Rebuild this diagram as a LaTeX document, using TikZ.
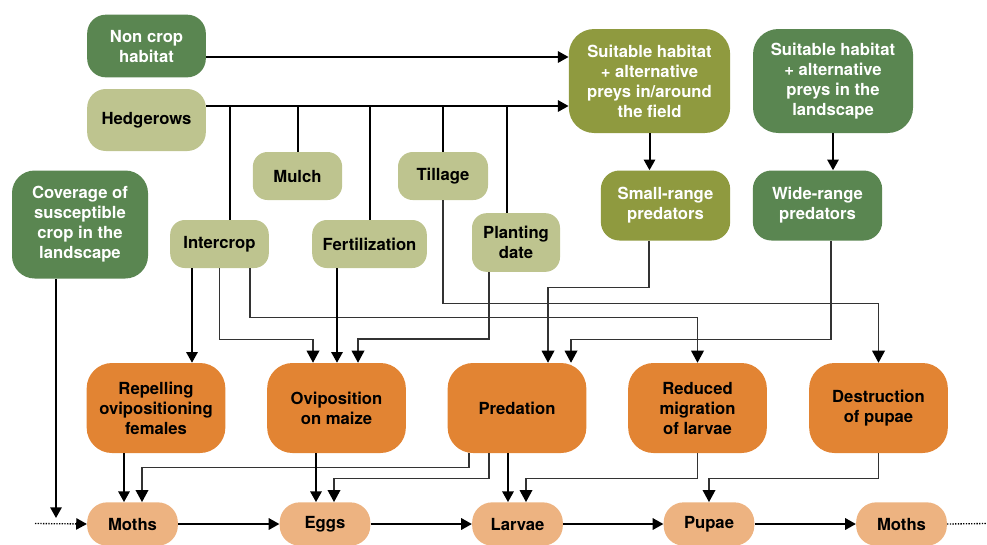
\documentclass[tikz,border=0pt]{standalone}
\usepackage{fontspec}
\setmainfont{TeX Gyre Heros}
\usepackage{xcolor}
\usepackage{tikz}
\usetikzlibrary{arrows.meta, positioning, calc}

\definecolor{darkleaf}{HTML}{5A8651}
\definecolor{paleleaf}{HTML}{BEC48F}
\definecolor{mossleaf}{HTML}{8F9A3F}
\definecolor{pestorange}{HTML}{E28433}
\definecolor{stageorange}{HTML}{EDB381}

\begin{document}
\begin{tikzpicture}[x=0.75pt, y=-0.75pt,
    font=\bfseries\fontsize{12.5}{15}\selectfont,
    box/.style={inner sep=0pt, align=center, rounded corners=14pt},
    wildbox/.style={box, fill=darkleaf, text=white},
    fieldbox/.style={box, fill=mossleaf, text=white},
    farmbox/.style={box, fill=paleleaf, rounded corners=11pt},
    effectbox/.style={box, fill=pestorange, rounded corners=19pt,
        minimum width=104pt, minimum height=67.5pt},
    stagebox/.style={box, fill=stageorange, rounded corners=15pt,
        minimum width=68pt, minimum height=32.5pt},
    arr/.style={-{Triangle[width=8.5pt,length=8pt]}, line width=1.5pt},
    elb/.style={-{Triangle[width=9.5pt,length=9pt,color=black]}, line width=1pt, black!80},
    ln/.style={line width=1.5pt},
    cycle/.style={line width=1pt, densely dotted}]
\useasboundingbox (0,0) rectangle (987,544);

% Landscape and field practices
\node[wildbox, minimum width=89pt, minimum height=47pt] (noncrop) at (146.5,46) {Non crop\\habitat};
\node[farmbox, minimum width=89pt, minimum height=46.5pt, rounded corners=14pt] (hedge) at (146.5,120) {Hedgerows};
\node[wildbox, minimum width=102pt, minimum height=81pt, rounded corners=17pt] (cover) at (80,224.5) {Coverage of\\susceptible\\crop in the\\landscape};
\node[farmbox, minimum width=67pt, minimum height=36pt] (mulch) at (297.5,176) {Mulch};
\node[farmbox, minimum width=67.5pt, minimum height=36pt] (tillage) at (443,176) {Tillage};
\node[farmbox, minimum width=74pt, minimum height=36pt] (intercrop) at (219.5,244) {Intercrop};
\node[farmbox, minimum width=86pt, minimum height=36pt] (fert) at (369.5,244) {Fertilization};
\node[farmbox, minimum width=66pt, minimum height=44pt] (plant) at (516,242.5) {Planting\\date};

% Habitats and predators
\node[fieldbox, minimum width=121pt, minimum height=78pt, rounded corners=19pt] (fieldhab) at (649.5,81) {Suitable habitat\\+ alternative\\preys in/around\\the field};
\node[wildbox, minimum width=120pt, minimum height=78pt, rounded corners=19pt] (landhab) at (833,81) {Suitable habitat\\+ alternative\\preys in the\\landscape};
\node[fieldbox, minimum width=97pt, minimum height=52.5pt] (smallpred) at (665.5,205.5) {Small-range\\predators};
\node[wildbox, minimum width=97pt, minimum height=52.5pt] (widepred) at (817.5,205.5) {Wide-range\\predators};

% Effects on the pest
\node[effectbox] (repel) at (156,408) {Repelling\\ovipositioning\\females};
\node[effectbox] (ovip) at (336.5,408) {Oviposition\\on maize};
\node[effectbox] (pred) at (517,408) {Predation};
\node[effectbox] (migr) at (697.5,408) {Reduced\\migration\\of larvae};
\node[effectbox] (destr) at (878.5,408) {Destruction\\of pupae};

% Pest life cycle
\node[stagebox] (moths) at (132.5,524) {Moths};
\node[stagebox] (eggs) at (325,524) {Eggs};
\node[stagebox] (larvae) at (517.5,524) {Larvae};
\node[stagebox] (pupae) at (709,524) {Pupae};
\node[stagebox] (moths2) at (901.5,524) {Moths};
\coordinate (cyclein) at (35,523.5);
\coordinate (cycleout) at (987,523.5);
\coordinate (covend) at (56,518);

% Habitat links
\draw[arr] ($(noncrop.east)+(0,11)$) coordinate (nc) -- (nc -| fieldhab.west);
\draw[arr] ($(hedge.east)+(0,-14)$) coordinate (hl) -- (hl -| fieldhab.west);
\foreach \n/\dx in {intercrop/10.5, mulch/0, fert/0, tillage/0, plant/-9}
    \draw[ln] ($(\n.north)+(\dx,0)$) coordinate (b) -- (b |- hl);
\draw[arr] (fieldhab.south) -- (fieldhab.south |- smallpred.north);
\draw[arr] (landhab.south) -- (landhab.south |- widepred.north);

% Practices to effects
\draw[arr] ($(cover.south)+(-24,0)$) coordinate (c) -- (c |- covend);
\draw[arr] ($(intercrop.south)+(-27.5,0)$) coordinate (c) -- (c |- repel.north);
\draw[elb] (intercrop.south) -- ++(0,71) -| ($(ovip.north)+(-23.5,0)$);
\draw[elb] ($(intercrop.south)+(30.5,0)$) -- ++(0,49) -| (migr.north);
\draw[arr] ($(fert.south)+(-32.5,0)$) coordinate (c) -- (c |- ovip.north);
\draw[elb] ($(plant.south)+(-27,0)$) -- ++(0,67) -| ($(ovip.north)+(21.5,0)$);
\draw[elb] (tillage.south) -- ++(0,103) -| (destr.north);
\draw[elb] ($(smallpred.south)+(-16.5,0)$) -- ++(0,47) -| ($(pred.north)+(31,0)$);
\draw[elb] ($(widepred.south)+(13.5,0)$) -- ++(0,99) -| ($(pred.north)+(54,0)$);

% Effects to life stages
\draw[arr] ($(repel.south)+(-32,0)$) coordinate (c) -- (c |- moths.north);
\draw[elb] ($(pred.south)+(-48,0)$) -- ++(0,14) -| ($(moths.north)+(9.5,0)$);
\draw[arr] ($(ovip.south)+(-20.5,0)$) coordinate (c) -- (c |- eggs.north);
\draw[elb] ($(pred.south)+(-28,0)$) -- ++(0,25) -| ($(eggs.north)+(9,0)$);
\draw[arr] ($(pred.south)+(-9,0)$) coordinate (c) -- (c |- larvae.north);
\draw[elb] (migr.south) -- ++(0,25) -| ($(larvae.north)+(8.5,0)$);
\draw[elb] (destr.south) -- ++(0,25) -| (pupae.north);

% Cycle
\draw[cycle, -{Triangle[width=8.5pt,length=8pt]}] (cyclein) -- (moths.west);
\draw[arr] (moths.east) -- (eggs.west);
\draw[arr] (eggs.east) -- (larvae.west);
\draw[arr] (larvae.east) -- (pupae.west);
\draw[arr] (pupae.east) -- (moths2.west);
\draw[cycle] (moths2.east) -- (cycleout);
\end{tikzpicture}
\end{document}
